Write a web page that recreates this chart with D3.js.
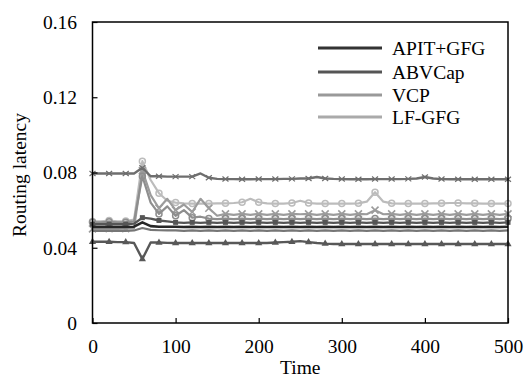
<!DOCTYPE html>
<html>
<head>
<meta charset="utf-8">
<script src="https://cdn.jsdelivr.net/npm/d3@7"></script>
<style>
  html, body { margin: 0; padding: 0; background: #fff; }
  svg { display: block; }
  text { font-family: "Liberation Serif", "Times New Roman", serif; fill: #000; }
</style>
</head>
<body>
<svg id="chart" width="525" height="385"></svg>
<script>
// ---------------- data ----------------
const timeSteps = [0,10,20,30,40,50,60,70,80,90,100,110,120,130,140,150,160,170,180,190,200,210,220,230,240,250,260,270,280,290,300,310,320,330,340,350,360,370,380,390,400,410,420,430,440,450,460,470,480,490,500];

const xTicks = [0,100,200,300,400,500];
const yTicks = [0,0.04,0.08,0.12,0.16];
const yTickLabels = ["0","0.04","0.08","0.12","0.16"];

const legendNames = ["APIT+GFG","ABVCap","VCP","LF-GFG"];

const seriesTop = [0.0795,0.0795,0.0795,0.0795,0.0795,0.0795,0.0825,0.0780,0.0780,0.0778,
  0.0778,0.0778,0.0778,0.0795,0.0772,0.0766,0.0765,0.0765,0.0764,0.0764,
  0.0765,0.0765,0.0765,0.0766,0.0766,0.0768,0.0768,0.0776,0.0768,0.0766,
  0.0765,0.0764,0.0764,0.0764,0.0765,0.0765,0.0765,0.0765,0.0766,0.0768,
  0.0776,0.0768,0.0765,0.0764,0.0764,0.0764,0.0764,0.0764,0.0764,0.0764,0.0764];

const seriesLight = [0.0540,0.0540,0.0545,0.0540,0.0542,0.0550,0.0860,0.0760,0.0690,0.0650,
  0.0640,0.0636,0.0635,0.0635,0.0635,0.0636,0.0636,0.0638,0.0642,0.0660,
  0.0642,0.0636,0.0635,0.0635,0.0638,0.0650,0.0638,0.0635,0.0635,0.0635,
  0.0635,0.0635,0.0636,0.0645,0.0695,0.0645,0.0636,0.0635,0.0635,0.0635,
  0.0635,0.0636,0.0636,0.0638,0.0638,0.0636,0.0636,0.0635,0.0635,0.0635,0.0635];

const seriesCross = [0.0500,0.0500,0.0502,0.0500,0.0502,0.0505,0.0810,0.0680,0.0610,0.0660,
  0.0600,0.0630,0.0590,0.0660,0.0610,0.0570,0.0580,0.0575,0.0580,0.0575,
  0.0580,0.0575,0.0580,0.0575,0.0580,0.0578,0.0580,0.0575,0.0580,0.0575,
  0.0580,0.0575,0.0580,0.0578,0.0600,0.0578,0.0580,0.0575,0.0580,0.0575,
  0.0580,0.0575,0.0580,0.0575,0.0580,0.0575,0.0580,0.0575,0.0580,0.0575,0.0580];

const seriesCircle = [0.0535,0.0535,0.0538,0.0535,0.0536,0.0540,0.0780,0.0640,0.0580,0.0620,
  0.0570,0.0600,0.0560,0.0565,0.0555,0.0552,0.0555,0.0552,0.0555,0.0552,
  0.0555,0.0552,0.0555,0.0552,0.0555,0.0552,0.0555,0.0552,0.0555,0.0552,
  0.0555,0.0552,0.0555,0.0552,0.0555,0.0552,0.0555,0.0552,0.0555,0.0552,
  0.0555,0.0552,0.0555,0.0552,0.0555,0.0552,0.0555,0.0552,0.0555,0.0552,0.0555];

const seriesDark = [0.0510,0.0510,0.0510,0.0510,0.0510,0.0512,0.0535,0.0515,0.0512,0.0512,
  0.0512,0.0510,0.0512,0.0510,0.0512,0.0510,0.0512,0.0510,0.0512,0.0510,
  0.0512,0.0510,0.0512,0.0510,0.0512,0.0510,0.0512,0.0510,0.0512,0.0510,
  0.0512,0.0510,0.0512,0.0510,0.0512,0.0510,0.0512,0.0510,0.0512,0.0510,
  0.0512,0.0510,0.0512,0.0510,0.0512,0.0510,0.0512,0.0510,0.0512,0.0510,0.0512];

const seriesMid = [0.0525,0.0525,0.0525,0.0525,0.0525,0.0528,0.0560,0.0555,0.0545,0.0540,
  0.0535,0.0532,0.0535,0.0532,0.0535,0.0532,0.0535,0.0532,0.0535,0.0532,
  0.0535,0.0532,0.0535,0.0532,0.0535,0.0532,0.0535,0.0532,0.0535,0.0532,
  0.0535,0.0532,0.0535,0.0532,0.0535,0.0532,0.0535,0.0532,0.0535,0.0532,
  0.0535,0.0532,0.0535,0.0532,0.0535,0.0532,0.0535,0.0532,0.0535,0.0532,0.0535];

const seriesLow = [0.0490,0.0490,0.0490,0.0490,0.0490,0.0492,0.0505,0.0495,0.0493,0.0492,
  0.0492,0.0490,0.0492,0.0490,0.0492,0.0490,0.0492,0.0490,0.0492,0.0490,
  0.0492,0.0490,0.0492,0.0490,0.0492,0.0490,0.0492,0.0490,0.0492,0.0490,
  0.0492,0.0490,0.0492,0.0490,0.0492,0.0490,0.0492,0.0490,0.0492,0.0490,
  0.0492,0.0490,0.0492,0.0490,0.0492,0.0490,0.0492,0.0490,0.0492,0.0490,0.0492];

const seriesTri = [0.0432,0.0432,0.0432,0.0430,0.0430,0.0425,0.0340,0.0428,0.0428,0.0426,
  0.0425,0.0425,0.0425,0.0425,0.0425,0.0425,0.0425,0.0425,0.0425,0.0425,
  0.0425,0.0425,0.0428,0.0430,0.0432,0.0435,0.0430,0.0425,0.0422,0.0420,
  0.0420,0.0420,0.0420,0.0420,0.0420,0.0420,0.0420,0.0420,0.0420,0.0420,
  0.0420,0.0420,0.0420,0.0420,0.0420,0.0420,0.0420,0.0420,0.0420,0.0420,0.0420];

// ---------------- drawing ----------------
const FONT = '"Liberation Serif", "Times New Roman", serif';
const FS = "19.5px";
const svg = d3.select("#chart");
const margin = {left: 92.5, right: 17, top: 22, bottom: 62};
const W = 525, H = 385;
const x = d3.scaleLinear().domain([0, 500]).range([margin.left, W - margin.right]);
const y = d3.scaleLinear().domain([0, 0.16]).range([H - margin.bottom, margin.top]);

const defs = svg.append("defs");
defs.append("filter").attr("id", "soft").attr("x", "-5%").attr("y", "-50%").attr("width", "110%").attr("height", "200%")
  .append("feGaussianBlur").attr("stdDeviation", 0.6);

const seriesDefs = [
  {values: seriesLight,  color: "#bcbcbc", marker: "circle",   width: 2.2},
  {values: seriesCross,  color: "#9c9c9c", marker: "cross",    width: 2.2},
  {values: seriesCircle, color: "#8e8e8e", marker: "circle",   width: 2.2},
  {values: seriesTop,    color: "#6e6e6e", marker: "tick",     width: 2.4},
  {values: seriesLow,    color: "#767676", marker: "none",     width: 2.2},
  {values: seriesMid,    color: "#555555", marker: "square",   width: 2.4},
  {values: seriesTri,    color: "#585858", marker: "triangle", width: 2.4},
  {values: seriesDark,   color: "#262626", marker: "none",     width: 2.6}
];

const line = d3.line().x(d => x(d[0])).y(d => y(d[1]));
const gLines = svg.append("g").attr("filter", "url(#soft)");

seriesDefs.forEach(s => {
  const pts = timeSteps.map((t, i) => [t, s.values[i]]);
  gLines.append("path")
    .attr("d", line(pts))
    .attr("fill", "none")
    .attr("stroke", s.color)
    .attr("stroke-width", s.width)
    .attr("stroke-linejoin", "round");
  const mk = pts.filter(p => p[0] % 20 === 0);
  const g = gLines.append("g");
  mk.forEach(p => {
    const cx = x(p[0]), cy = y(p[1]);
    if (s.marker === "circle") {
      g.append("circle").attr("cx", cx).attr("cy", cy).attr("r", 3)
        .attr("fill", "none").attr("stroke", s.color).attr("stroke-width", 1.5);
    } else if (s.marker === "cross") {
      g.append("path").attr("d", `M${cx-3.5},${cy-3.5}L${cx+3.5},${cy+3.5}M${cx-3.5},${cy+3.5}L${cx+3.5},${cy-3.5}`)
        .attr("stroke", s.color).attr("stroke-width", 1.6);
    } else if (s.marker === "square") {
      g.append("rect").attr("x", cx-2.5).attr("y", cy-2.5).attr("width", 5).attr("height", 5)
        .attr("fill", s.color);
    } else if (s.marker === "triangle") {
      g.append("path").attr("d", `M${cx},${cy-4}L${cx+3.6},${cy+2.2}L${cx-3.6},${cy+2.2}Z`)
        .attr("fill", s.color);
    } else if (s.marker === "tick") {
      g.append("path").attr("d", `M${cx-3},${cy-2.5}L${cx+3},${cy+2.5}M${cx-3},${cy+2.5}L${cx+3},${cy-2.5}`)
        .attr("stroke", s.color).attr("stroke-width", 1.2);
    }
  });
});

// axes
const xAxis = d3.axisBottom(x).tickValues(xTicks).tickSizeInner(-5).tickSizeOuter(0).tickPadding(16);
const yAxis = d3.axisLeft(y).tickValues(yTicks).tickSizeInner(-5).tickSizeOuter(0).tickPadding(15.5)
  .tickFormat((d, i) => yTickLabels[i]);

const gx = svg.append("g").attr("transform", `translate(0,${H - margin.bottom})`).call(xAxis);
const gy = svg.append("g").attr("transform", `translate(${margin.left},0)`).call(yAxis);
[gx, gy].forEach(g => {
  g.attr("font-family", FONT).attr("font-size", 19.5);
  g.select(".domain").remove();
  g.selectAll(".tick line").attr("stroke", "#000").attr("stroke-width", 1.2);
  g.selectAll(".tick text").attr("font-family", FONT).style("font-family", FONT)
    .style("font-size", FS).attr("fill", "#000");
});

// frame
svg.append("rect")
  .attr("x", x(0)).attr("y", y(0.16))
  .attr("width", x(500) - x(0)).attr("height", y(0) - y(0.16))
  .attr("fill", "none").attr("stroke", "#000").attr("stroke-width", 1.5);

// axis titles
svg.append("text").attr("x", (x(0) + x(500)) / 2).attr("y", 374)
  .attr("text-anchor", "middle").attr("font-family", FONT).style("font-size", FS).text("Time");
svg.append("text")
  .attr("transform", `translate(26,175) rotate(-90)`)
  .attr("text-anchor", "middle").attr("font-family", FONT).style("font-size", FS).text("Routing latency");

// legend
const legendColors = ["#333333", "#555555", "#999999", "#aaaaaa"];
const legY = [48, 72, 95, 117];
const leg = svg.append("g");
legendNames.forEach((name, i) => {
  leg.append("line").attr("x1", 318).attr("x2", 382).attr("y1", legY[i]).attr("y2", legY[i])
    .attr("stroke", legendColors[i]).attr("stroke-width", 2.8);
  leg.append("text").attr("x", 392).attr("y", legY[i] + 6.5)
    .attr("font-family", FONT).style("font-size", FS).text(name);
});
</script>
</body>
</html>
